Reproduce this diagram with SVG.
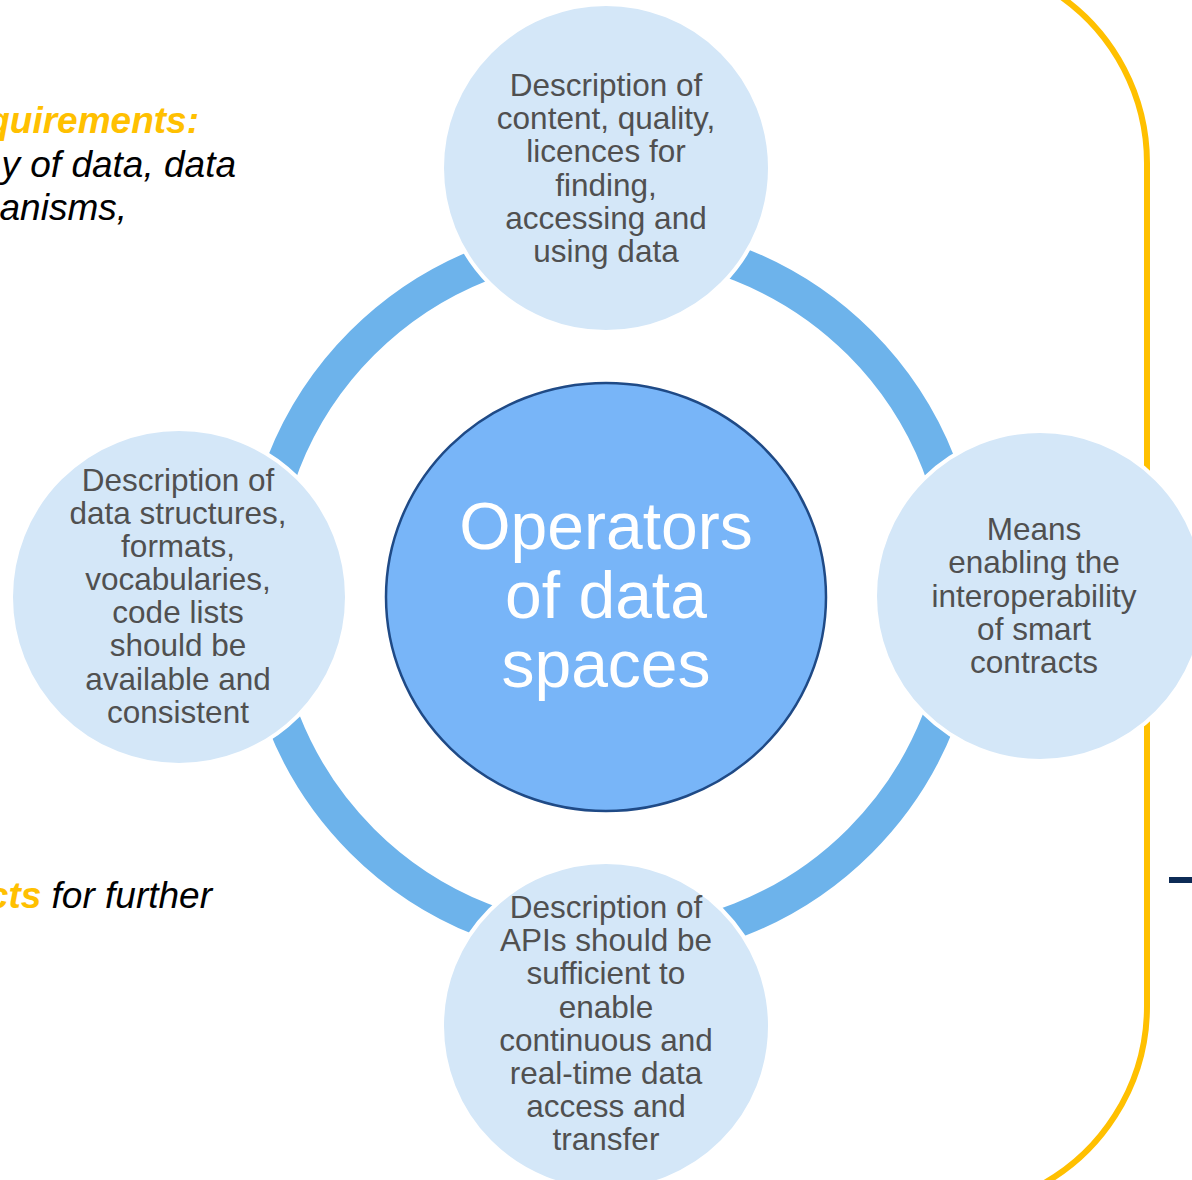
<svg xmlns="http://www.w3.org/2000/svg" width="1192" height="1180" viewBox="0 0 1192 1180">
  <style>
    .node { fill: #d4e7f8; stroke: #ffffff; stroke-width: 4; }
    .ntext { font-family: "Liberation Sans", Arial, sans-serif; font-size: 31.5px; fill: #505050; text-anchor: middle; }
    .ctext { font-family: "Liberation Sans", Arial, sans-serif; font-size: 66px; fill: #ffffff; text-anchor: middle; }
    .side { font-family: "Liberation Sans", Arial, sans-serif; font-size: 37px; font-style: italic; fill: #000000; text-anchor: end; }
    .hl { fill: #ffc000; font-weight: bold; }
  </style>
  <rect width="1192" height="1180" fill="#ffffff"/>

  <!-- side bracket -->
  <path d="M 1060 -4 A 204 204 0 0 1 1147 163 L 1147 1006 A 204 204 0 0 1 1029 1191" fill="none" stroke="#ffc000" stroke-width="6"/>
  <rect x="1169" y="877" width="23" height="6" fill="#0d2b56"/>

  <!-- cycle ring -->
  <g id="connectors">
    <circle cx="611" cy="592" r="352" fill="none" stroke="#6db3eb" stroke-width="34"/>
  </g>

  <!-- hub -->
  <g id="hub">
    <ellipse cx="606" cy="597" rx="220" ry="214" fill="#78b5f8" stroke="#1f4a86" stroke-width="2.5"/>
    <text class="ctext" x="606" y="549">Operators</text>
    <text class="ctext" x="606" y="618">of data</text>
    <text class="ctext" x="606" y="687">spaces</text>
  </g>

  <g id="node-top">
    <circle class="node" cx="606" cy="168" r="164"/>
    <text class="ntext" x="606" y="96">Description of</text>
    <text class="ntext" x="606" y="129">content, quality,</text>
    <text class="ntext" x="606" y="162">licences for</text>
    <text class="ntext" x="606" y="196">finding,</text>
    <text class="ntext" x="606" y="229">accessing and</text>
    <text class="ntext" x="606" y="262">using data</text>
  </g>

  <g id="node-right">
    <circle class="node" cx="1040" cy="596" r="165"/>
    <text class="ntext" x="1034" y="540">Means</text>
    <text class="ntext" x="1034" y="573">enabling the</text>
    <text class="ntext" x="1034" y="607">interoperability</text>
    <text class="ntext" x="1034" y="640">of smart</text>
    <text class="ntext" x="1034" y="673">contracts</text>
  </g>

  <g id="node-bottom">
    <circle class="node" cx="606" cy="1026" r="164"/>
    <text class="ntext" x="606" y="918">Description of</text>
    <text class="ntext" x="606" y="951">APIs should be</text>
    <text class="ntext" x="606" y="984">sufficient to</text>
    <text class="ntext" x="606" y="1018">enable</text>
    <text class="ntext" x="606" y="1051">continuous and</text>
    <text class="ntext" x="606" y="1084">real-time data</text>
    <text class="ntext" x="606" y="1117">access and</text>
    <text class="ntext" x="606" y="1150">transfer</text>
  </g>

  <g id="node-left">
    <circle class="node" cx="179" cy="597" r="168"/>
    <text class="ntext" x="178" y="491">Description of</text>
    <text class="ntext" x="178" y="524">data structures,</text>
    <text class="ntext" x="178" y="557">formats,</text>
    <text class="ntext" x="178" y="590">vocabularies,</text>
    <text class="ntext" x="178" y="623">code lists</text>
    <text class="ntext" x="178" y="656">should be</text>
    <text class="ntext" x="178" y="690">available and</text>
    <text class="ntext" x="178" y="723">consistent</text>
  </g>

  <!-- left-hand notes -->
  <g id="notes">
    <text class="side" x="199" y="133"><tspan class="hl">quirements:</tspan></text>
    <text class="side" x="236" y="177">y of data, data</text>
    <text class="side" x="127" y="220">anisms,</text>
    <text class="side" x="212" y="908"><tspan class="hl">cts</tspan> for further</text>
  </g>
</svg>
